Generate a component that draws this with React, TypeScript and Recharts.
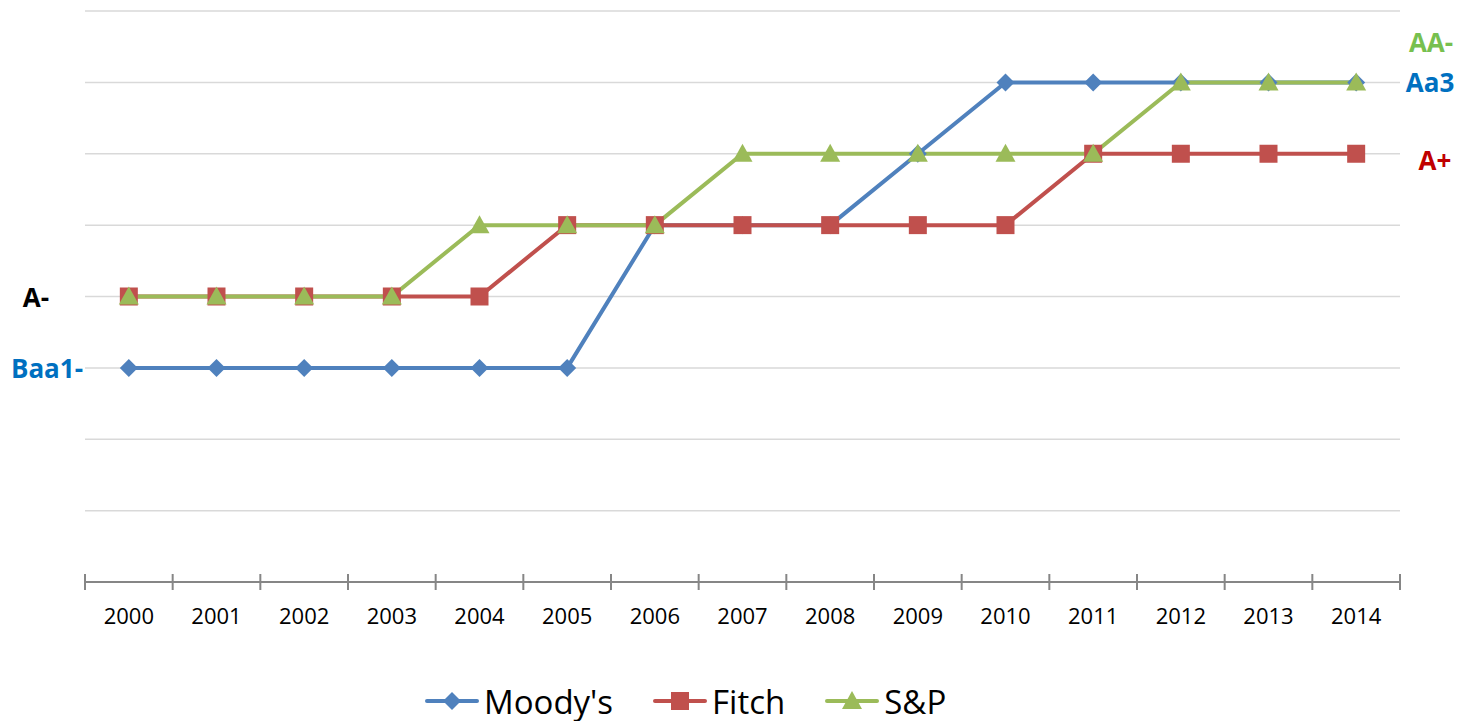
import { LineChart, Line, XAxis, YAxis, CartesianGrid, ReferenceLine, Legend } from 'recharts'

const years = [2000, 2001, 2002, 2003, 2004, 2005, 2006, 2007, 2008, 2009, 2010, 2011, 2012, 2013, 2014]
const moodys = [3, 3, 3, 3, 3, 3, 5, 5, 5, 6, 7, 7, 7, 7, 7]
const fitch = [4, 4, 4, 4, 4, 5, 5, 5, 5, 5, 5, 6, 6, 6, 6]
const sp = [4, 4, 4, 4, 5, 5, 5, 6, 6, 6, 6, 6, 7, 7, 7]
const ratingTicks = [0, 1, 2, 3, 4, 5, 6, 7, 8]

const series = [
    { key: 'moodys', name: "Moody's", color: '#4F81BD', shape: 'diamond' },
    { key: 'fitch', name: 'Fitch', color: '#C0504D', shape: 'square' },
    { key: 'sp', name: 'S&P', color: '#9BBB59', shape: 'triangle' },
]

const data = years.map((year, i) => ({ year, moodys: moodys[i], fitch: fitch[i], sp: sp[i] }))
const axisTicks = years.flatMap((y) => [y - 0.5, y]).concat([years[years.length - 1] + 0.5])

const FONT = '"Open Sans", sans-serif'
const AXIS = '#868686'

function Marker({ cx, cy, shape, color }: { cx: number; cy: number; shape: string; color: string }) {
    if (shape === 'diamond') {
        return <polygon points={`${cx},${cy - 9} ${cx + 9},${cy} ${cx},${cy + 9} ${cx - 9},${cy}`} fill={color} />
    }
    if (shape === 'square') {
        return <rect x={cx - 9} y={cy - 9} width={18} height={18} fill={color} />
    }
    return <polygon points={`${cx},${cy - 10} ${cx + 10},${cy + 8} ${cx - 10},${cy + 8}`} fill={color} />
}

function AxisTick(props: any) {
    const { x, y, payload } = props
    if (Number.isInteger(payload.value)) {
        return (
            <text x={x} y={y + 33} textAnchor="middle" dominantBaseline="central" fontFamily={FONT} fontSize={22} fill="#000">
                {payload.value}
            </text>
        )
    }
    return <line x1={x} x2={x} y1={y - 8} y2={y + 8} stroke={AXIS} strokeWidth={2} />
}

function sideLabel(text: string, color: string, side: 'left' | 'right', dx: number, dy: number) {
    return (props: any) => {
        const vb = props.viewBox
        const x = side === 'left' ? vb.x - dx : vb.x + vb.width + dx
        return (
            <text x={x} y={vb.y + dy} textAnchor="middle" dominantBaseline="central" fontFamily={FONT} fontSize={26} fontWeight={700} fill={color}>
                {text}
            </text>
        )
    }
}

function LegendContent() {
    return (
        <div style={{ height: 40, display: 'flex', alignItems: 'center', paddingLeft: 340, gap: 40, fontFamily: FONT, fontSize: 33 }}>
            {series.map((s) => (
                <div key={s.key} style={{ display: 'flex', alignItems: 'center', gap: 5 }}>
                    <svg width={54} height={26}>
                        <line x1={2} x2={52} y1={13} y2={13} stroke={s.color} strokeWidth={4} strokeLinecap="round" />
                        <Marker cx={27} cy={13} shape={s.shape} color={s.color} />
                    </svg>
                    <span>{s.name}</span>
                </div>
            ))}
        </div>
    )
}

export default function App() {
    return (
        <div style={{ position: 'absolute', left: 0, top: 0 }}>
            <LineChart width={1458} height={721} data={data} margin={{ top: 11, right: 58, left: 85, bottom: 0 }}>
                <CartesianGrid vertical={false} stroke="#D9D9D9" strokeWidth={1.5} />
                <XAxis
                    dataKey="year"
                    type="number"
                    domain={[1999.5, 2014.5]}
                    ticks={axisTicks}
                    interval={0}
                    tick={<AxisTick />}
                    tickLine={false}
                    tickSize={0}
                    tickMargin={0}
                    axisLine={{ stroke: AXIS, strokeWidth: 2 }}
                    height={99}
                />
                <YAxis hide type="number" domain={[0, 8]} ticks={ratingTicks} />
                <ReferenceLine y={4} stroke="none" label={sideLabel('A-', '#000000', 'left', 49, 0)} />
                <ReferenceLine y={3} stroke="none" label={sideLabel('Baa1-', '#0070C0', 'left', 38, 0)} />
                <ReferenceLine y={7} stroke="none" label={sideLabel('Aa3', '#0070C0', 'right', 30, 0)} />
                <ReferenceLine y={7} stroke="none" label={sideLabel('AA-', '#77C04F', 'right', 31, -40)} />
                <ReferenceLine y={6} stroke="none" label={sideLabel('A+', '#C00000', 'right', 35, 6)} />
                <Legend verticalAlign="bottom" content={<LegendContent />} />
                {series.map((s) => (
                    <Line
                        key={s.key}
                        dataKey={s.key}
                        name={s.name}
                        stroke={s.color}
                        strokeWidth={4}
                        isAnimationActive={false}
                        activeDot={false}
                        dot={(p: any) => <Marker key={`${s.key}-${p.index}`} cx={p.cx} cy={p.cy} shape={s.shape} color={s.color} />}
                    />
                ))}
            </LineChart>
        </div>
    )
}
